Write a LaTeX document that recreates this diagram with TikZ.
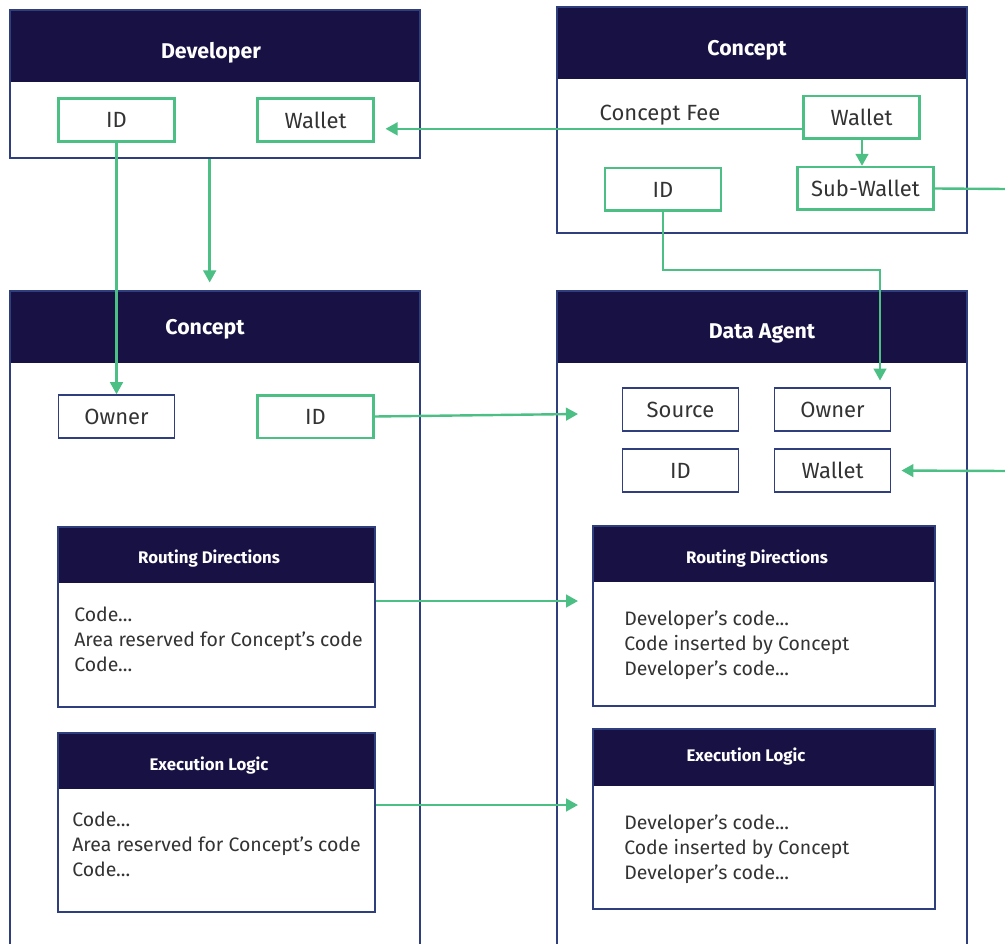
\documentclass[tikz,border=0pt]{standalone}
\usepackage{fontspec}
\setmainfont{Fira Sans}
\usetikzlibrary{fit,arrows.meta}

\definecolor{navy}{HTML}{181144}
\definecolor{rim}{HTML}{2F3F7E}
\definecolor{mint}{HTML}{4CBF84}
\definecolor{ink}{HTML}{333333}

\tikzset{
  frame/.style={draw=rim,line width=0.8pt,inner sep=0pt},
  head/.style={fill=navy,inner sep=0pt},
  title/.style={text=white,inner sep=0pt,font=\bfseries\fontsize{16}{18}\selectfont},
  subtitle/.style={title,font=\bfseries\fontsize{12.6}{14}\selectfont},
  field/.style={draw=mint,line width=2pt,minimum width=87pt,minimum height=32pt,text=ink,font=\fontsize{16.5}{18}\selectfont},
  slot/.style={field,draw=rim,line width=1.4pt},
  codetext/.style={align=left,anchor=west,inner sep=0pt,text=ink,font=\fontsize{14.6}{18.75}\selectfont},
  link/.style={draw=mint,line width=1.8pt,-{Triangle[length=9pt,width=9.5pt]}},
  wire/.style={draw=mint,line width=1.8pt}
}

\begin{document}
\begin{tikzpicture}[x=0.75pt,y=-0.75pt]

        \useasboundingbox (0,0) rectangle (1005,944);

        \begin{scope}[every node/.style={head}]
          \node[fit={(10,10) (420,82)}]    (devhead)   {};
          \node[fit={(557,7) (967,79)}]    (conhead)   {};
          \node[fit={(10,291) (420,363)}]  (clhead)    {};
          \node[fit={(557,291) (967,363)}] (agenthead) {};
          \node[fit={(58,527) (375,583)}]  (lrdhead)   {};
          \node[fit={(58,733) (375,789)}]  (lexhead)   {};
          \node[fit={(593,526) (935,582)}] (ardhead)   {};
          \node[fit={(593,729) (935,786)}] (aexhead)   {};
        \end{scope}

        \begin{scope}[every node/.style={title}]
          \node (devtitle)   at (211,53)  {Developer};
          \node (contitle)   at (747,50)  {Concept};
          \node (cltitle)    at (205,329) {Concept};
          \node (agenttitle) at (762,333) {Data Agent};
        \end{scope}

        \begin{scope}[every node/.style={subtitle}]
          \node (lrdtitle) at (209,559) {Routing Directions};
          \node (lextitle) at (209,766) {Execution Logic};
          \node (ardtitle) at (757,559) {Routing Directions};
          \node (aextitle) at (746,757) {Execution Logic};
        \end{scope}

        \begin{scope}[every node/.style={frame}]
          \node[fit={(10,10) (420,158)}]   (dev)   {};
          \node[fit={(557,7) (967,233)}]   (con)   {};
          \node[fit={(10,291) (420,952)}]  (cl)    {};
          \node[fit={(557,291) (967,952)}] (agent) {};
          \node[fit={(58,527) (375,707)}]  (lrd)   {};
          \node[fit={(58,733) (375,912)}]  (lex)   {};
          \node[fit={(593,526) (935,706)}] (ard)   {};
          \node[fit={(593,729) (935,909)}] (aex)   {};
        \end{scope}

        \begin{scope}[every node/.style={field}]
          \node (did)     at (116.5,120)  {ID};
          \node (dwallet) at (315.5,120)  {Wallet};
          \node (cwallet) at (861.5,117.5) {Wallet};
          \node[minimum width=102pt] (csub) at (865.5,188.5) {Sub-Wallet};
          \node (cid)     at (663,189.5)  {ID};
          \node (clid)    at (315.5,416.5) {ID};
        \end{scope}

        \begin{scope}[every node/.style={slot}]
          \node (clowner) at (116.5,416.5) {Owner};
          \node (asource) at (680.5,409.5) {Source};
          \node (aowner)  at (832.5,409.5) {Owner};
          \node (aid)     at (680.5,470.5) {ID};
          \node (awallet) at (832.5,470.5) {Wallet};
        \end{scope}

        \node[text=ink,font=\fontsize{16.5}{18}\selectfont] (fee) at (660,115) {Concept Fee};

        \begin{scope}[every node/.style={codetext}]
          \node (lrdcode) at (74,639)  {Code...\\Area reserved for Concept's code\\Code...};
          \node (lexcode) at (72,844)  {Code...\\Area reserved for Concept's code\\Code...};
          \node (ardcode) at (624,645) {Developer's code...\\Code inserted by Concept\\Developer's code...};
          \node (aexcode) at (624,849) {Developer's code...\\Code inserted by Concept\\Developer's code...};
        \end{scope}

        \coordinate (turn)   at (880,270);
        \coordinate (exitR)  at (1006,189);
        \coordinate (entryR) at (1006,471);
        \coordinate (idin)   at (578,414);
        \coordinate (rdin)   at (578,601);
        \coordinate (exin)   at (578,805);

        \draw[link,shorten >=8pt] ([yshift=-8.5pt]cwallet.west) -- ([yshift=-8.5pt]cwallet.west -| dwallet.east);
        \draw[link] (cwallet.south -| 862,0) -- (csub.north -| 862,0);
        \draw[wire] (csub.east) -- (exitR);
        \draw[link,shorten >=7.5pt] (entryR) -- (awallet.east);
        \draw[link] (did.south) -- (clowner.north);
        \draw[link,shorten >=6pt] ([xshift=-4pt]dev.south) -- ([xshift=-4pt]dev.south |- cl.north);
        \draw[link,shorten >=5pt] (cid.south) |- (turn) -- (turn |- aowner.north);
        \draw[link] (clid.east) -- (idin);
        \draw[link] (lrd.east |- rdin) -- (rdin);
        \draw[link] (lex.east |- exin) -- (exin);

      \end{tikzpicture}
\end{document}
